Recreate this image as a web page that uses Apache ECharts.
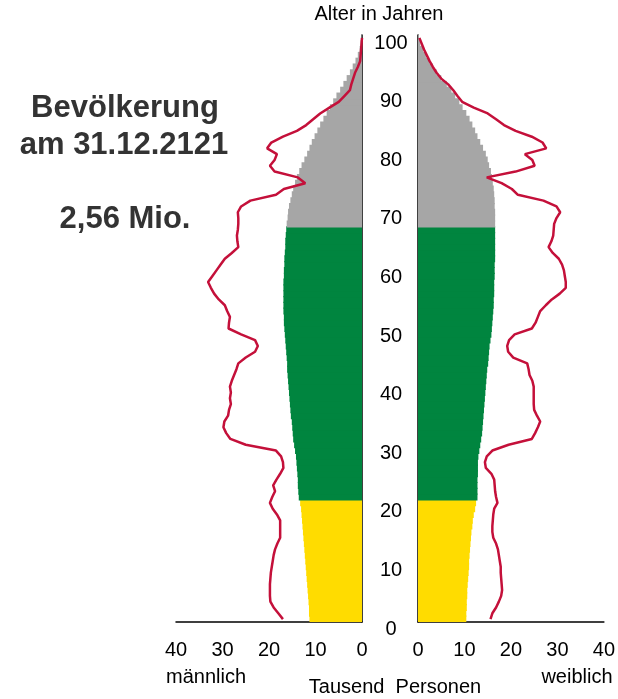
<!DOCTYPE html>
<html>
<head>
<meta charset="utf-8">
<script src="https://cdn.jsdelivr.net/npm/echarts@6/dist/echarts.min.js"></script>
<style>
  html, body { margin: 0; padding: 0; background: #fff; }
  #chart { width: 618px; height: 699px; }
</style>
</head>
<body>
<div id="chart"></div>
<script>
// Alter 0..100 (je ein Balken pro Jahrgang)
const ages = Array.from({ length: 101 }, (_, i) => String(i))

// Bevölkerung 2121, Tausend Personen
const maleBars = [
  11.3, 11.4, 11.4, 11.5, 11.6, 11.7, 11.8, 11.9, 12.0, 12.1,
  12.2, 12.3, 12.4, 12.5, 12.6, 12.7, 12.8, 12.9, 13.0, 13.1,
  13.3, 13.6, 13.7, 13.8, 13.8, 13.9, 14.0, 14.1, 14.2, 14.4,
  14.6, 14.8, 14.9, 15.0, 15.1, 15.3, 15.4, 15.5, 15.6, 15.7,
  15.8, 15.9, 16.0, 16.1, 16.1, 16.2, 16.3, 16.4, 16.5, 16.6,
  16.7, 16.8, 16.8, 16.9, 16.9, 16.9, 16.9, 16.9, 16.9, 16.8,
  16.8, 16.7, 16.7, 16.6, 16.5, 16.5, 16.4, 16.3, 16.2, 16.0,
  15.9, 15.7, 15.4, 15.1, 14.8, 14.4, 14.0, 13.5, 13.0, 12.4,
  11.8, 11.3, 10.8, 10.2, 9.6, 9.0, 8.3, 7.6, 6.9, 6.2,
  5.5, 4.7, 4.0, 3.3, 2.6, 2.0, 1.4, 0.9, 0.5, 0.3,
  0.1,
]
const femaleBars = [
  10.4, 10.4, 10.5, 10.5, 10.6, 10.6, 10.7, 10.8, 10.9, 11.0,
  11.0, 11.1, 11.2, 11.3, 11.4, 11.5, 11.7, 11.8, 12.0, 12.3,
  12.5, 12.8, 12.8, 12.8, 12.8, 12.9, 12.9, 12.9, 13.0, 13.2,
  13.4, 13.6, 13.8, 13.9, 14.0, 14.1, 14.2, 14.3, 14.4, 14.5,
  14.6, 14.7, 14.8, 14.9, 15.1, 15.2, 15.3, 15.4, 15.6, 15.8,
  15.9, 16.0, 16.1, 16.2, 16.3, 16.3, 16.4, 16.4, 16.4, 16.5,
  16.5, 16.5, 16.6, 16.6, 16.6, 16.6, 16.6, 16.6, 16.6, 16.6,
  16.6, 16.5, 16.5, 16.4, 16.3, 16.1, 15.9, 15.7, 15.3, 15.0,
  14.6, 14.0, 13.4, 12.8, 12.3, 11.7, 11.1, 10.4, 9.6, 8.9,
  8.0, 7.2, 6.2, 5.0, 4.0, 3.2, 2.4, 1.7, 1.1, 0.5,
  0.2,
]

// Vergleichslinie (rote Kontur)
const maleLine = [
  17.0, 18.0, 19.0, 19.7, 19.8, 19.8, 19.8, 19.7, 19.6, 19.4,
  19.2, 19.0, 18.7, 18.2, 17.6, 17.6, 17.6, 17.6, 18.3, 19.2,
  19.8, 19.3, 18.7, 19.1, 18.4, 17.6, 16.9, 17.0, 17.4, 18.5,
  25.0, 28.3, 29.2, 29.8, 29.6, 28.8, 28.6, 28.2, 28.4, 28.2,
  28.4, 28.0, 27.5, 27.0, 26.6, 25.0, 23.0, 22.4, 23.0, 26.0,
  28.7, 28.6, 28.4, 29.0, 29.5, 30.8, 31.8, 32.5, 33.1, 32.2,
  31.3, 30.4, 29.5, 28.0, 26.6, 26.8, 26.9, 26.7, 26.6, 26.6,
  26.7, 26.0, 24.0, 18.5, 16.8, 12.2, 13.8, 18.8, 19.8, 18.8,
  18.3, 20.4, 19.5, 17.0, 14.0, 12.0, 10.5, 9.0, 7.0, 5.0,
  3.8, 2.6, 2.3, 1.9, 1.5, 0.9, 0.4, 0.3, 0.2, 0.1,
  0.0,
]
const femaleLine = [
  15.6, 16.0, 16.8, 17.4, 17.9, 18.1, 18.0, 17.9, 17.8, 17.8,
  17.6, 17.4, 17.2, 16.8, 16.2, 16.0, 16.0, 16.1, 16.2, 16.4,
  17.1, 16.8, 16.6, 16.5, 16.4, 15.8, 14.6, 14.4, 14.8, 16.0,
  19.5, 24.5, 25.2, 25.8, 26.3, 25.6, 25.0, 24.9, 24.9, 24.9,
  24.9, 24.6, 24.0, 23.8, 23.5, 20.5, 19.4, 19.2, 19.6, 20.8,
  24.5, 25.3, 25.8, 26.3, 27.5, 28.8, 30.5, 31.8, 31.8, 31.6,
  31.4, 31.0, 30.3, 29.0, 28.1, 28.7, 29.1, 29.2, 29.3, 29.8,
  30.6, 29.8, 27.0, 21.5, 20.2, 18.0, 14.8, 21.0, 25.1, 24.6,
  23.0, 27.6, 26.8, 24.5, 21.0, 18.5, 16.8, 15.0, 12.0, 9.5,
  8.5, 7.6, 6.5, 5.0, 4.0, 3.2, 2.5, 1.9, 1.3, 0.8,
  0.3,
]

// Altersgruppen: bis 20 gelb, 21..67 grün, ab 68 grau
const groupLimits = [20, 67]

const palette = {
  young: '#ffdc00',
  work: '#00853f',
  old: '#a6a6a6',
  line: '#c4103a',
  axis: '#000',
  title: '#333',
}

const FONT = '"Liberation Sans", Arial, Helvetica, sans-serif'

function groupColor(age) {
  if (age <= groupLimits[0]) return palette.young
  if (age <= groupLimits[1]) return palette.work
  return palette.old
}

function barData(values) {
  return values.map((v, i) => ({ value: v, itemStyle: { color: groupColor(i) } }))
}

const GRID_TOP = 35
const GRID_H = 587

const valueAxis = (gridIndex, inverse) => ({
  type: 'value',
  gridIndex,
  inverse,
  min: 0,
  max: 40,
  interval: 10,
  axisLine: { show: true, lineStyle: { color: palette.axis, width: 1.5 } },
  axisTick: { show: false },
  splitLine: { show: false },
  axisLabel: { color: '#000', fontSize: 20, fontFamily: FONT, margin: 18 },
})

const ageAxis = (gridIndex, position) => ({
  type: 'category',
  gridIndex,
  position,
  data: ages,
  axisLine: { show: true, onZero: false, lineStyle: { color: palette.axis, width: 1.5 } },
  axisTick: { show: false },
  axisLabel: { show: false },
  splitLine: { show: false },
})

// bars a little thicker than one year band so that no hairline gaps show
const yearBar = {
  type: 'bar',
  barWidth: 7,
  z: 2,
}

const chart = echarts.init(document.getElementById('chart'), null, { renderer: 'canvas' })

chart.setOption({
  animation: false,
  backgroundColor: '#fff',
  textStyle: { fontFamily: FONT },
  grid: [
    { left: 176, width: 186, top: GRID_TOP, height: GRID_H },
    { left: 418, width: 188, top: GRID_TOP, height: GRID_H },
    { left: 391, width: 1, top: 43, height: 586 },
  ],
  xAxis: [
    valueAxis(0, true),
    valueAxis(1, false),
    { type: 'value', gridIndex: 2, show: false, min: 0, max: 1 },
  ],
  yAxis: [
    ageAxis(0, 'right'),
    ageAxis(1, 'left'),
    {
      type: 'value',
      gridIndex: 2,
      min: 0,
      max: 100,
      interval: 10,
      axisLine: { show: false },
      axisTick: { show: false },
      splitLine: { show: false },
      axisLabel: { color: '#000', fontSize: 20, fontFamily: FONT, align: 'center', margin: 0 },
    },
  ],
  series: [
    Object.assign({}, yearBar, {
      name: 'männlich',
      xAxisIndex: 0,
      yAxisIndex: 0,
      data: barData(maleBars),
    }),
    Object.assign({}, yearBar, {
      name: 'weiblich',
      xAxisIndex: 1,
      yAxisIndex: 1,
      data: barData(femaleBars),
    }),
    {
      type: 'line',
      xAxisIndex: 0,
      yAxisIndex: 0,
      data: maleLine,
      symbol: 'none',
      lineStyle: { color: palette.line, width: 2.5 },
      z: 5,
    },
    {
      type: 'line',
      xAxisIndex: 1,
      yAxisIndex: 1,
      data: femaleLine,
      symbol: 'none',
      lineStyle: { color: palette.line, width: 2.5 },
      z: 5,
    },
  ],
  graphic: [
    {
      type: 'text', x: 379, y: 14,
      style: { text: 'Alter in Jahren', fill: '#000', font: '20px ' + FONT, align: 'center', verticalAlign: 'middle' },
    },
    {
      type: 'text', x: 125, y: 108,
      style: { text: 'Bevölkerung', fill: palette.title, font: 'bold 31px ' + FONT, align: 'center', verticalAlign: 'middle' },
    },
    {
      type: 'text', x: 124, y: 145,
      style: { text: 'am 31.12.2121', fill: palette.title, font: 'bold 31px ' + FONT, align: 'center', verticalAlign: 'middle' },
    },
    {
      type: 'text', x: 125, y: 219,
      style: { text: '2,56 Mio.', fill: palette.title, font: 'bold 31px ' + FONT, align: 'center', verticalAlign: 'middle' },
    },
    {
      type: 'text', x: 206, y: 677,
      style: { text: 'männlich', fill: '#000', font: '20px ' + FONT, align: 'center', verticalAlign: 'middle' },
    },
    {
      type: 'text', x: 577, y: 677,
      style: { text: 'weiblich', fill: '#000', font: '20px ' + FONT, align: 'center', verticalAlign: 'middle' },
    },
    {
      type: 'text', x: 395, y: 687,
      style: { text: 'Tausend  Personen', fill: '#000', font: '20px ' + FONT, align: 'center', verticalAlign: 'middle' },
    },
  ],
})
</script>
</body>
</html>
